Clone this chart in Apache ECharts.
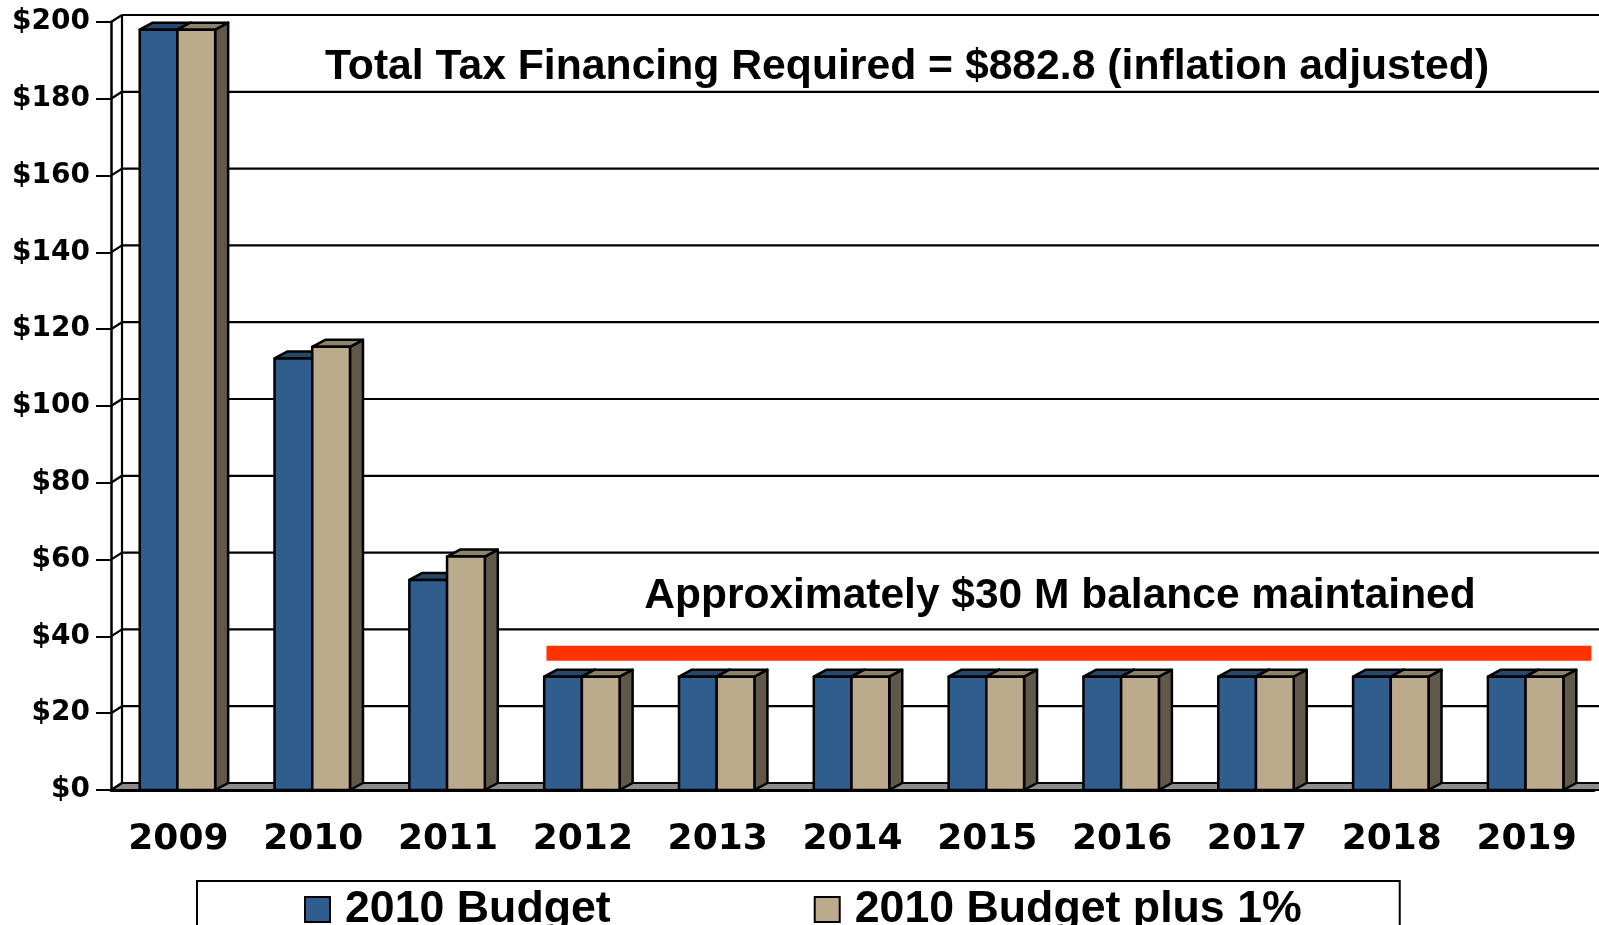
<!DOCTYPE html>
<html>
<head>
<meta charset="UTF-8">
<title>Tax Financing</title>
<script src="https://cdn.jsdelivr.net/npm/echarts@6/dist/echarts.min.js"></script>
<style>
  html, body { margin: 0; padding: 0; background: #fff; }
  #main { width: 1599px; height: 925px; }
</style>
</head>
<body>
<div id="main"></div>
<script>
// data
var years = ['2009', '2010', '2011', '2012', '2013', '2014', '2015', '2016', '2017', '2018', '2019'];
var budget = [198, 112.4, 54.7, 29.5, 29.5, 29.5, 29.5, 29.5, 29.5, 29.5, 29.5];
var budgetPlus = [198, 115.4, 60.8, 29.5, 29.5, 29.5, 29.5, 29.5, 29.5, 29.5, 29.5];
var yTicks = [0, 20, 40, 60, 80, 100, 120, 140, 160, 180, 200];
var balanceLevel = [35.6];
var balanceSpan = [3.23, 10.98];   // in category units along the x axis

// depth of the fake 3d
var DX = 11, DY = -7;
var BDX = 13, BDY = -7;

function barRender(shift, front, top, side) {
  return function (params, api) {
    var idx = api.value(0), v = api.value(1);
    var c = api.coord([idx, v]);
    var b = api.coord([idx, 0]);
    var band = api.size([1, 0])[0];
    var w = band * 0.28;
    var x0 = c[0] + band * shift;
    var yt = c[1], yb = b[1];
    var line = { stroke: '#000', lineWidth: 2.5, lineJoin: 'round' };
    return {
      type: 'group',
      children: [
        { type: 'polygon', shape: { points: [[x0 + w, yt], [x0 + w + BDX, yt + BDY], [x0 + w + BDX, yb + BDY], [x0 + w, yb]] },
          style: Object.assign({ fill: side }, line) },
        { type: 'polygon', shape: { points: [[x0, yt], [x0 + w, yt], [x0 + w + BDX, yt + BDY], [x0 + BDX, yt + BDY]] },
          style: Object.assign({ fill: top }, line) },
        { type: 'rect', shape: { x: x0, y: yt, width: w, height: yb - yt },
          style: Object.assign({ fill: front }, line) }
      ]
    };
  };
}

function wallRender(params, api) {
  var x0 = api.coord([0, 0])[0];
  var x1 = api.coord([11, 0])[0];
  var y0 = api.coord([0, 0])[1];
  var kids = [];
  kids.push({ type: 'polygon', shape: { points: [[x0, y0], [x1 + 20, y0], [x1 + 20 + DX, y0 + DY], [x0 + DX, y0 + DY]] },
    style: { fill: '#8c8c8c', stroke: '#000', lineWidth: 2 } });
  yTicks.forEach(function (t) {
    var y = api.coord([0, t])[1];
    kids.push({ type: 'line', shape: { x1: x0 + DX, y1: y + DY, x2: x1 + 40, y2: y + DY }, style: { stroke: '#000', lineWidth: 2.2 } });
    kids.push({ type: 'line', shape: { x1: x0, y1: y, x2: x0 + DX, y2: y + DY }, style: { stroke: '#000', lineWidth: 2.2 } });
  });
  var yTop = api.coord([0, yTicks[yTicks.length - 1]])[1];
  kids.push({ type: 'line', shape: { x1: x0 + DX, y1: yTop + DY, x2: x0 + DX, y2: y0 + DY }, style: { stroke: '#000', lineWidth: 2.2 } });
  return { type: 'group', children: kids };
}

function balanceRender(params, api) {
  var a = api.coord([balanceSpan[0], balanceLevel[0]]);
  var b = api.coord([balanceSpan[1], balanceLevel[0]]);
  return { type: 'rect', shape: { x: a[0], y: a[1] - 7.5, width: b[0] - a[0], height: 15 }, style: { fill: '#ff3300' } };
}

var chart = echarts.init(document.getElementById('main'));
var axisFont = 'DejaVu Sans';
var textFont = '"Liberation Sans", Arial, sans-serif';

chart.setOption({
  animation: false,
  backgroundColor: '#fff',
  grid: { left: 111, right: 5, top: 22, bottom: 135 },
  xAxis: [{
    type: 'category',
    data: years,
    axisLine: { lineStyle: { color: '#000', width: 3 } },
    axisTick: { length: 13, lineStyle: { color: '#000', width: 2 } },
    axisLabel: { color: '#000', fontFamily: axisFont, fontWeight: 'bold', fontSize: 36, lineHeight: 36, margin: 32 },
    z: 10
  }, {
    type: 'value', min: 0, max: 11, show: false
  }],
  yAxis: {
    type: 'value',
    min: 0, max: 200, interval: 20,
    axisLine: { show: true, lineStyle: { color: '#000', width: 2.5 } },
    axisTick: { show: true, length: 15, lineStyle: { color: '#000', width: 2 } },
    axisLabel: { color: '#000', fontFamily: axisFont, fontWeight: 'bold', fontSize: 28, margin: 21,
      formatter: function (v) { return '$' + v; } },
    splitLine: { show: false },
    z: 10
  },
  legend: {
    left: 197, top: 881,
    padding: [6, 98, 30, 107],
    borderColor: '#000', borderWidth: 2,
    itemWidth: 25, itemHeight: 25, itemGap: 203,
    selectedMode: false,
    icon: 'rect',
    textStyle: { color: '#000', fontFamily: textFont, fontWeight: 'bold', fontSize: 44.7, lineHeight: 45, padding: [0, 0, 0, 10] },
    data: ['2010 Budget', '2010 Budget plus 1%']
  },
  graphic: [
    { type: 'text', x: 907, y: 67, z: 100,
      style: { text: 'Total Tax Financing Required = $882.8 (inflation adjusted)', fill: '#000',
        font: 'bold 42.7px ' + textFont, align: 'center', verticalAlign: 'middle' } },
    { type: 'text', x: 1060, y: 596, z: 100,
      style: { text: 'Approximately $30 M balance maintained', fill: '#000',
        font: 'bold 42.5px ' + textFont, align: 'center', verticalAlign: 'middle' } }
  ],
  series: [{
    type: 'custom', name: 'walls', xAxisIndex: 1, z: 1, silent: true,
    renderItem: wallRender, data: [[0, 0]]
  }, {
    type: 'custom', name: '2010 Budget', z: 3,
    itemStyle: { color: '#2f5e8e', borderColor: '#000', borderWidth: 2 },
    renderItem: barRender(-0.287, '#2f5e8e', '#26486c', '#203c5a'),
    encode: { x: 0, y: 1 },
    data: budget.map(function (v, i) { return [i, v]; })
  }, {
    type: 'custom', name: '2010 Budget plus 1%', z: 4,
    itemStyle: { color: '#bbaa8b', borderColor: '#000', borderWidth: 2 },
    renderItem: barRender(-0.0074, '#bbaa8b', '#8e836a', '#605848'),
    encode: { x: 0, y: 1 },
    data: budgetPlus.map(function (v, i) { return [i, v]; })
  }, {
    type: 'custom', name: 'balance', xAxisIndex: 1, z: 5, silent: true,
    renderItem: balanceRender, data: [[0, 0]]
  }]
});
</script>
</body>
</html>
